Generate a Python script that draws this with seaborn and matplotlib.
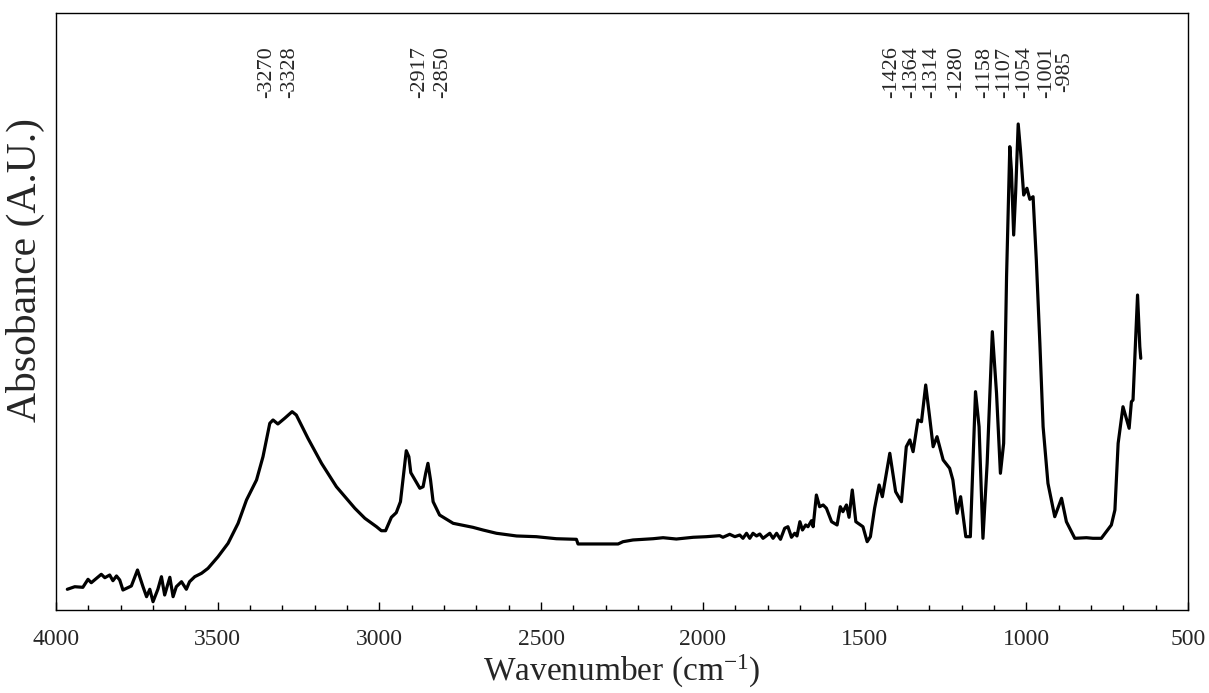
import numpy as np
import pandas as pd
import matplotlib
matplotlib.use("Agg")
import matplotlib.pyplot as plt
import matplotlib.transforms as mtransforms
from matplotlib.ticker import MultipleLocator
import seaborn as sns

# ---- data: FTIR spectrum (wavenumber in cm-1, absorbance in arbitrary units) ----
wavenumber = [
    3965, 3942, 3917, 3901, 3891, 3860, 3849, 3834, 3824, 3813, 3803, 3793, 3767, 3748,
    3731, 3720, 3710, 3700, 3685, 3674, 3664, 3648, 3638, 3628, 3612, 3597, 3587, 3571,
    3550, 3530, 3499, 3468, 3437, 3411, 3380, 3360, 3339, 3329, 3314, 3293, 3270, 3257,
    3221, 3179, 3133, 3076, 3045, 3009, 2994, 2981, 2963, 2948, 2935, 2925, 2917, 2909,
    2903, 2891, 2875, 2865, 2857, 2850, 2842, 2834, 2814, 2772, 2731, 2711, 2680, 2638,
    2576, 2515, 2453, 2391, 2386, 2262, 2247, 2216, 2154, 2123, 2082, 2030, 1989, 1948,
    1938, 1917, 1901, 1886, 1876, 1865, 1855, 1845, 1834, 1824, 1814, 1793, 1783, 1772,
    1760, 1747, 1737, 1726, 1716, 1709, 1700, 1692, 1682, 1675, 1664, 1659, 1649, 1639,
    1628, 1618, 1602, 1585, 1575, 1567, 1556, 1548, 1538, 1527, 1505, 1492, 1482, 1469,
    1455, 1445, 1422, 1404, 1386, 1371, 1360, 1350, 1335, 1324, 1311, 1299, 1288, 1276,
    1257, 1237, 1227, 1214, 1203, 1187, 1173, 1157, 1146, 1134, 1121, 1105, 1092, 1080,
    1070, 1061, 1051, 1046, 1039, 1033, 1025, 1018, 1008, 998, 989, 979, 969, 958,
    948, 933, 912, 891, 876, 850, 814, 794, 768, 737, 726, 716, 701, 682,
    675, 670, 656, 649, 646,
]
absorbance = [
    3.47, 3.90, 3.80, 5.14, 4.57, 5.98, 5.41, 5.86, 4.91, 5.70, 5.03, 3.35, 4.02, 6.70,
    3.90, 2.23, 3.47, 1.39, 3.47, 5.58, 2.51, 5.48, 2.23, 3.90, 4.74, 3.47, 4.74, 5.58,
    6.15, 6.98, 8.93, 11.17, 14.52, 18.43, 21.78, 25.68, 31.27, 31.83, 31.16, 32.11, 33.22, 32.66,
    28.76, 24.57, 20.65, 17.04, 15.36, 13.95, 13.28, 13.28, 15.53, 16.30, 18.14, 22.90, 26.68, 25.68,
    23.00, 21.89, 20.39, 20.65, 22.90, 24.57, 21.78, 18.14, 15.91, 14.52, 14.07, 13.85, 13.40, 12.85,
    12.40, 12.28, 11.94, 11.84, 11.06, 11.06, 11.44, 11.73, 11.94, 12.11, 11.89, 12.18, 12.28, 12.45,
    12.18, 12.68, 12.28, 12.56, 12.01, 12.85, 12.01, 12.85, 12.40, 12.73, 12.01, 12.85, 12.01, 12.85,
    11.84, 13.69, 13.95, 12.18, 12.85, 12.40, 14.79, 13.40, 14.24, 13.95, 14.96, 13.95, 19.26, 17.30,
    17.59, 17.04, 14.79, 14.24, 17.30, 16.47, 17.59, 15.53, 20.10, 14.79, 13.95, 11.44, 12.28, 17.04,
    20.94, 18.98, 26.25, 19.82, 18.14, 27.35, 28.48, 26.52, 31.83, 31.54, 37.69, 32.38, 27.35, 29.03,
    25.13, 23.74, 21.78, 16.20, 18.98, 12.28, 12.28, 36.57, 30.70, 12.01, 24.57, 46.62, 36.30, 22.90,
    27.92, 55.83, 77.61, 73.70, 62.81, 69.80, 81.41, 77.05, 69.51, 70.64, 68.79, 69.23, 58.63, 44.67,
    30.70, 21.22, 15.63, 18.71, 14.79, 12.01, 12.11, 12.01, 12.01, 14.24, 16.75, 27.92, 34.05, 30.44,
    34.89, 35.18, 52.76, 44.10, 42.16,
]

# peak annotation labels and their x positions (cm-1)
peak_labels = ["-3270", "-3328", "-2917", "-2850", "-1426", "-1364", "-1314",
               "-1280", "-1158", "-1107", "-1054", "-1001", "-985"]
peak_label_x = [3349, 3277, 2875, 2804, 1417, 1355, 1293, 1216, 1128, 1067, 1005, 938, 881]

x_ticks = [4000, 3500, 3000, 2500, 2000, 1500, 1000, 500]

df = pd.DataFrame({"Wavenumber": wavenumber, "Absorbance": absorbance})

sns.set_style("white")
plt.rcParams["font.family"] = ["Liberation Serif", "DejaVu Serif"]
plt.rcParams["mathtext.fontset"] = "custom"
plt.rcParams["mathtext.rm"] = "Liberation Serif"
plt.rcParams["mathtext.it"] = "Liberation Serif:italic"

fig = plt.figure(figsize=(12.09, 6.93), dpi=100)
ax = fig.add_axes([56 / 1209, 83 / 693, 1132 / 1209, 597 / 693])

sns.lineplot(data=df, x="Wavenumber", y="Absorbance", sort=False, estimator=None,
             color="black", linewidth=2.3, ax=ax)
for ln in ax.get_lines():
    ln.set_solid_joinstyle("round")
    ln.set_solid_capstyle("round")

ax.set_xlim(4000, 500)
ax.set_ylim(0, 100)
ax.set_yticks([])
ax.set_xticks(x_ticks)
ax.xaxis.set_minor_locator(MultipleLocator(100))
ax.tick_params(axis="x", which="major", direction="in", length=6, width=1,
               labelsize=17, pad=14, color="black", bottom=True, top=False)
ax.tick_params(axis="x", which="minor", direction="in", length=3.5, width=1,
               bottom=True, top=False, color="black")

for s in ax.spines.values():
    s.set_color("black")
    s.set_linewidth(1.0)

ax.set_xlabel("Wavenumber (cm$^{\\mathrm{-1}}$)", fontsize=24, labelpad=2)
ax.set_ylabel("Absobance (A.U.)", fontsize=30)
ax.yaxis.set_label_coords(-0.0095, (610 - 270) / 597)

trans = mtransforms.blended_transform_factory(ax.transData, ax.transAxes)
for lab, xp in zip(peak_labels, peak_label_x):
    ax.text(xp, 0.901, lab, rotation=90, ha="center", va="center",
            fontsize=16, transform=trans)

fig.savefig("out.png", dpi=100)
